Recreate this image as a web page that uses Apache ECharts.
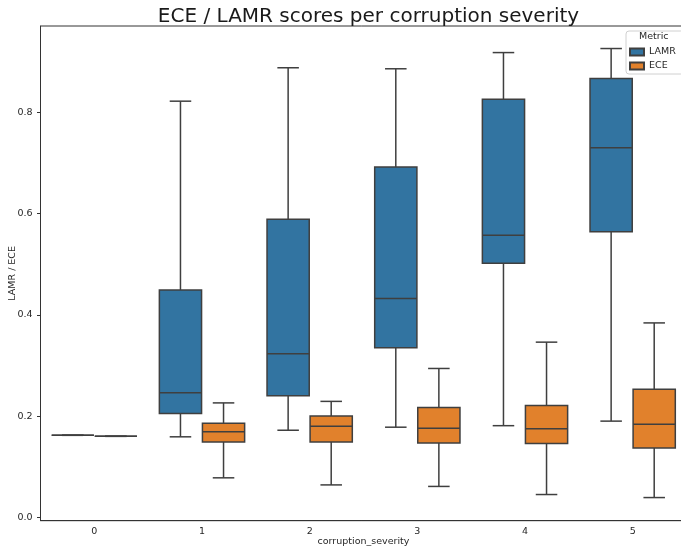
<!DOCTYPE html>
<html>
<head>
<meta charset="utf-8">
<script src="https://cdn.jsdelivr.net/npm/echarts@6/dist/echarts.min.js"></script>
<style>
  html, body { margin: 0; padding: 0; background: #fff; }
  #chart { width: 681px; height: 550px; }
</style>
</head>
<body>
<div id="chart"></div>
<script>
// Corruption severity levels on the x axis
const categories = ['0', '1', '2', '3', '4', '5'];

// Box statistics per severity: [lower whisker, Q1, median, Q3, upper whisker]
const lamrStats = [
  [0.162, 0.162, 0.162, 0.162, 0.162],
  [0.159, 0.205, 0.246, 0.449, 0.822],
  [0.172, 0.240, 0.323, 0.589, 0.888],
  [0.178, 0.335, 0.432, 0.692, 0.886],
  [0.181, 0.502, 0.557, 0.826, 0.918],
  [0.190, 0.564, 0.730, 0.867, 0.926]
];
const eceStats = [
  [0.160, 0.160, 0.160, 0.160, 0.160],
  [0.078, 0.149, 0.169, 0.186, 0.226],
  [0.064, 0.149, 0.180, 0.200, 0.229],
  [0.061, 0.147, 0.176, 0.217, 0.294],
  [0.045, 0.146, 0.175, 0.221, 0.346],
  [0.039, 0.137, 0.184, 0.253, 0.384]
];

// Y axis tick values
const yTicks = [0, 0.2, 0.4, 0.6, 0.8];

const seriesNames = ['LAMR', 'ECE'];
const seriesColors = ['#3274a1', '#e1812c'];
const edgeColor = '#3f3f3f';

function toRows(stats) {
  return stats.map((s, i) => [i].concat(s));
}

// Draws one box (with whiskers and caps) shifted left (-1) or right (+1) of the category centre
function makeBoxRenderer(side, fill) {
  return function (params, api) {
    const c = api.value(0);
    const band = api.size([1, 0])[0];
    const half = band * 0.2;
    const cx = api.coord([c, 0])[0] + side * half;
    const y = (v) => api.coord([c, v])[1];
    const yMin = y(api.value(1));
    const yQ1 = y(api.value(2));
    const yMed = y(api.value(3));
    const yQ3 = y(api.value(4));
    const yMax = y(api.value(5));
    const bw = half * 0.98;
    const cap = half / 2;
    const lineStyle = { stroke: edgeColor, lineWidth: 1.5 };
    return {
      type: 'group',
      children: [
        { type: 'line', shape: { x1: cx, y1: yQ3, x2: cx, y2: yMax }, style: lineStyle },
        { type: 'line', shape: { x1: cx, y1: yQ1, x2: cx, y2: yMin }, style: lineStyle },
        { type: 'line', shape: { x1: cx - cap, y1: yMax, x2: cx + cap, y2: yMax }, style: lineStyle },
        { type: 'line', shape: { x1: cx - cap, y1: yMin, x2: cx + cap, y2: yMin }, style: lineStyle },
        {
          type: 'rect',
          shape: { x: cx - bw, y: yQ3, width: bw * 2, height: yQ1 - yQ3 },
          style: { fill: fill, stroke: edgeColor, lineWidth: 1.5 }
        },
        { type: 'line', shape: { x1: cx - bw, y1: yMed, x2: cx + bw, y2: yMed }, style: lineStyle }
      ]
    };
  };
}

const chart = echarts.init(document.getElementById('chart'), null, { renderer: 'canvas' });

const font = 'DejaVu Sans';

chart.setOption({
  animation: false,
  backgroundColor: '#ffffff',
  textStyle: { fontFamily: font },
  title: {
    text: 'ECE / LAMR scores per corruption severity',
    left: 363.5,
    top: 2,
    textAlign: 'center',
    textStyle: { fontFamily: font, fontSize: 20, fontWeight: 'normal', color: '#1a1a1a' }
  },
  legend: {
    data: seriesNames,
    orient: 'vertical',
    left: 626,
    top: 31,
    padding: [16, 8, 3, 3],
    itemWidth: 14,
    itemHeight: 7,
    itemGap: 4,
    itemTextGap: 9,
    icon: 'rect',
    backgroundColor: 'rgba(255,255,255,0.85)',
    borderColor: '#d0d0d0',
    borderWidth: 1,
    borderRadius: 3,
    textStyle: { fontFamily: font, fontSize: 9.5, color: '#262626' }
  },
  graphic: [{
    type: 'text',
    z: 100,
    left: 639,
    top: 32,
    style: { text: 'Metric', font: '9.5px "DejaVu Sans"', fill: '#262626' }
  }],
  grid: {
    left: 40.5, top: 26, width: 646, height: 494.7,
    containLabel: false, outerBoundsMode: 'none',
    show: true, borderColor: '#333', borderWidth: 1
  },
  xAxis: {
    type: 'category',
    data: categories,
    boundaryGap: true,
    name: 'corruption_severity',
    nameLocation: 'middle',
    nameGap: 16,
    nameMoveOverlap: false,
    nameTextStyle: { fontFamily: font, fontSize: 9.5, color: '#262626', verticalAlign: 'top' },
    axisLine: { onZero: false, lineStyle: { color: '#333', width: 1 } },
    axisTick: { alignWithLabel: true, length: 3.5, lineStyle: { color: '#333' } },
    axisLabel: { fontFamily: font, fontSize: 9.5, color: '#262626', margin: 6 },
    splitLine: { show: false }
  },
  yAxis: {
    type: 'value',
    min: -0.0067,
    max: 0.9705,
    name: 'LAMR / ECE',
    nameLocation: 'middle',
    nameGap: 23,
    nameMoveOverlap: false,
    nameTextStyle: { fontFamily: font, fontSize: 9.5, color: '#262626' },
    axisLine: { show: true, onZero: false, lineStyle: { color: '#333', width: 1 } },
    axisTick: { show: true, length: 3.5, customValues: yTicks, lineStyle: { color: '#333' } },
    axisLabel: {
      fontFamily: font, fontSize: 9.5, color: '#262626', margin: 8,
      customValues: yTicks,
      formatter: (v) => v.toFixed(1)
    },
    splitLine: { show: false }
  },
  series: [
    {
      name: seriesNames[0],
      type: 'custom',
      renderItem: makeBoxRenderer(-1, seriesColors[0]),
      itemStyle: { color: seriesColors[0], borderColor: edgeColor, borderWidth: 1 },
      encode: { x: 0, y: [1, 2, 3, 4, 5] },
      data: toRows(lamrStats)
    },
    {
      name: seriesNames[1],
      type: 'custom',
      renderItem: makeBoxRenderer(1, seriesColors[1]),
      itemStyle: { color: seriesColors[1], borderColor: edgeColor, borderWidth: 1 },
      encode: { x: 0, y: [1, 2, 3, 4, 5] },
      data: toRows(eceStats)
    }
  ]
});
</script>
</body>
</html>
